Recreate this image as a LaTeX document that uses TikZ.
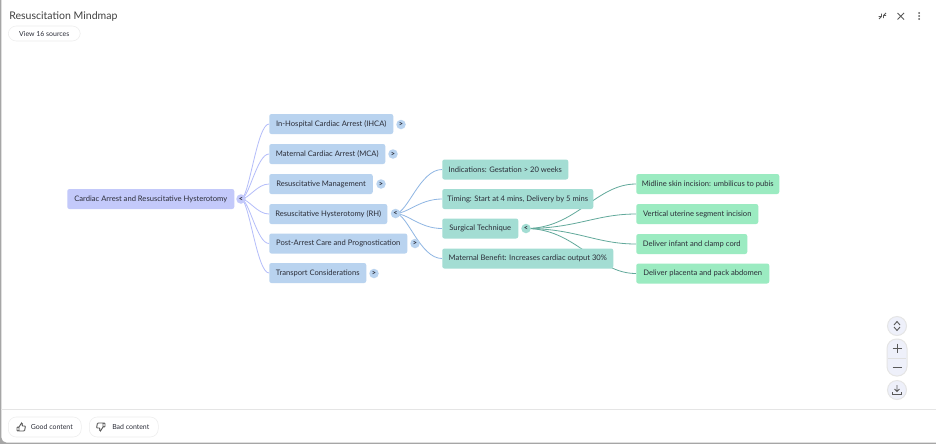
\documentclass[tikz,border=0pt]{standalone}
\usepackage{fontspec}
\setmainfont{Lato}
\usetikzlibrary{backgrounds}
\newlength{\du}
\setlength{\du}{0.75pt}
\definecolor{rootfill}{HTML}{C3C9FA}
\definecolor{bluefill}{HTML}{B9D3EF}
\definecolor{tealfill}{HTML}{A3DDD3}
\definecolor{greenfill}{HTML}{9BEBC1}
\definecolor{rootline}{HTML}{B4BDFA}
\definecolor{blueline}{HTML}{8FB6E3}
\definecolor{tealline}{HTML}{62A99B}
\definecolor{inktext}{HTML}{2B2D38}
\definecolor{btnfill}{HTML}{EEF0FA}
\tikzset{
  mapbox/.style={rounded corners=2.2\du,minimum height=20\du,inner sep=0pt,anchor=west,text=inktext,font=\fontsize{5.7}{7}\selectfont},
  rootbox/.style={mapbox,fill=rootfill},
  bluebox/.style={mapbox,fill=bluefill},
  tealbox/.style={mapbox,fill=tealfill},
  greenbox/.style={mapbox,fill=greenfill},
  toggle/.style={circle,minimum size=9.5\du,inner sep=0pt,text=inktext,font=\fontsize{5.5}{6}\bfseries\selectfont},
  pill/.style={draw=black!7,fill=white,rounded corners=8\du,minimum height=20\du,inner sep=0pt,anchor=west,text=inktext,font=\fontsize{5.2}{6}\selectfont},
  btn/.style={circle,fill=btnfill,draw=black!10,line width=1\du,minimum size=19\du,inner sep=0pt},
  fan/.style={line width=0.8\du},
  icon/.style={draw=black!65,line width=0.9\du},
}
\begin{document}
\begin{tikzpicture}[x=\du,y=-\du]
\useasboundingbox (0,0) rectangle (936,444);
% header
\node[anchor=west,inner sep=0pt,text=black!75,font=\fontsize{7.9}{10}\selectfont] (title) at (9,17) {Resuscitation Mindmap};
\node[pill,minimum width=72\du,minimum height=15\du] (sources) at (8,33.5) {View 16 sources};
% root
\node[rootbox,minimum width=167\du] (root) at (67,199) {Cardiac Arrest and Resuscitative Hysterotomy};
\node[toggle,fill=rootfill] (roottoggle) at (241,199) {<};
% first level
\node[bluebox,minimum width=124\du] (ihca) at (269,124) {In-Hospital Cardiac Arrest (IHCA)};
\node[toggle,fill=bluefill] (ihcatoggle) at (401,124.5) {>};
\node[bluebox,minimum width=116\du] (mca) at (269,154) {Maternal Cardiac Arrest (MCA)};
\node[toggle,fill=bluefill] (mcatoggle) at (393,154) {>};
\node[bluebox,minimum width=103.5\du] (mgmt) at (269,184) {Resuscitative Management};
\node[toggle,fill=bluefill] (mgmttoggle) at (381,184) {>};
\node[bluebox,minimum width=118\du] (rh) at (269,214) {Resuscitative Hysterotomy (RH)};
\node[toggle,fill=bluefill] (rhtoggle) at (395.5,213.5) {<};
\node[bluebox,minimum width=138\du] (post) at (269,243.5) {Post-Arrest Care and Prognostication};
\node[toggle,fill=bluefill] (posttoggle) at (415,243.5) {>};
\node[bluebox,minimum width=97\du] (transport) at (269,273) {Transport Considerations};
\node[toggle,fill=bluefill] (transporttoggle) at (374,273.5) {>};
% second level
\node[tealbox,minimum width=126\du] (indic) at (442,169.5) {Indications: Gestation > 20 weeks};
\node[tealbox,minimum width=151\du] (timing) at (442,199) {Timing: Start at 4 mins, Delivery by 5 mins};
\node[tealbox,minimum width=76\du] (surgical) at (442,228.5) {Surgical Technique};
\node[toggle,fill=tealfill] (surgtoggle) at (526,228.5) {<};
\node[tealbox,minimum width=171\du] (benefit) at (442,258.5) {Maternal Benefit: Increases cardiac output 30\%};
% third level
\node[greenbox,minimum width=143\du] (midline) at (636,184) {Midline skin incision: umbilicus to pubis};
\node[greenbox,minimum width=122\du] (uterine) at (636,214) {Vertical uterine segment incision};
\node[greenbox,minimum width=111\du] (infant) at (636,244) {Deliver infant and clamp cord};
\node[greenbox,minimum width=133\du] (placenta) at (636,273.5) {Deliver placenta and pack abdomen};
% links
\begin{scope}[on background layer]
\fill[black!35] (0,0) rectangle (936,444);
\fill[white,rounded corners=5\du] (1.5,-6) rectangle (942,442.5);
\foreach \n in {ihca,mca,mgmt,rh,post,transport}
  \draw[rootline,fan] (roottoggle.center) .. controls +(8,0) and +(-12,0) .. (\n.west);
\foreach \n in {indic,timing,surgical,benefit}
  \draw[blueline,fan] (rhtoggle.center) .. controls +(12,0) and +(-22,0) .. (\n.west);
\foreach \n in {midline,uterine,infant,placenta}
  \draw[tealline,fan] (surgtoggle.center) .. controls +(50,0) and +(-40,0) .. (\n.west);
\end{scope}
% top right icons
\draw[icon] (879,19) -- (881.5,16.5) (881.5,13.5) -- (881.5,16.5) -- (878.5,16.5);
\draw[icon] (886,13) -- (883.5,15.5) (883.5,18) -- (883.5,15.5) -- (886,15.5);
\draw[icon] (897.5,13) -- (904,19.5) (904,13) -- (897.5,19.5);
\foreach \y in {13,16,19}
  \fill[black!65] (919,\y) circle (1\du);
% map controls
\node[btn] (fitbtn) at (897,326) {};
\draw[icon] (894,325) -- (897,321.5) -- (900,325) (894,327) -- (897,330.5) -- (900,327);
\node[btn,rounded corners=9.5\du,shape=rectangle,minimum width=20\du,minimum height=37\du] (zoombtn) at (897,357.5) {};
\draw[black!12,line width=0.7\du] (888,358) -- (906,358);
\draw[icon] (892.5,348) -- (901.5,348) (897,343.5) -- (897,352.5);
\draw[icon] (892.5,367) -- (901.5,367);
\node[btn] (savebtn) at (897,390) {};
\draw[icon] (897,385) -- (897,391) (894.5,389) -- (897,391.5) -- (899.5,389);
\draw[icon] (892.5,392) -- (892.5,394.5) -- (901.5,394.5) -- (901.5,392);
% footer
\draw[black!10,line width=0.7\du] (1.5,409) -- (936,409);
\node[pill,minimum width=73\du,text depth=0pt] (good) at (8,427) {\hspace*{14\du}Good content};
\node[pill,minimum width=69\du,text depth=0pt] (bad) at (89,427) {\hspace*{14\du}Bad content};
\draw[icon,fill=white,rounded corners=0.8\du] (17,427) rectangle (19,431) (19,427) -- (21.5,423) -- (22.5,424) -- (22,426) -- (25.5,426) -- (24.5,431) -- (19,431);
\draw[icon,fill=white,rounded corners=0.8\du] (105,423) rectangle (103,427) (103,427) -- (100.5,431) -- (99.5,430) -- (100,428) -- (96.5,428) -- (97.5,423) -- (103,423);
\end{tikzpicture}
\end{document}
